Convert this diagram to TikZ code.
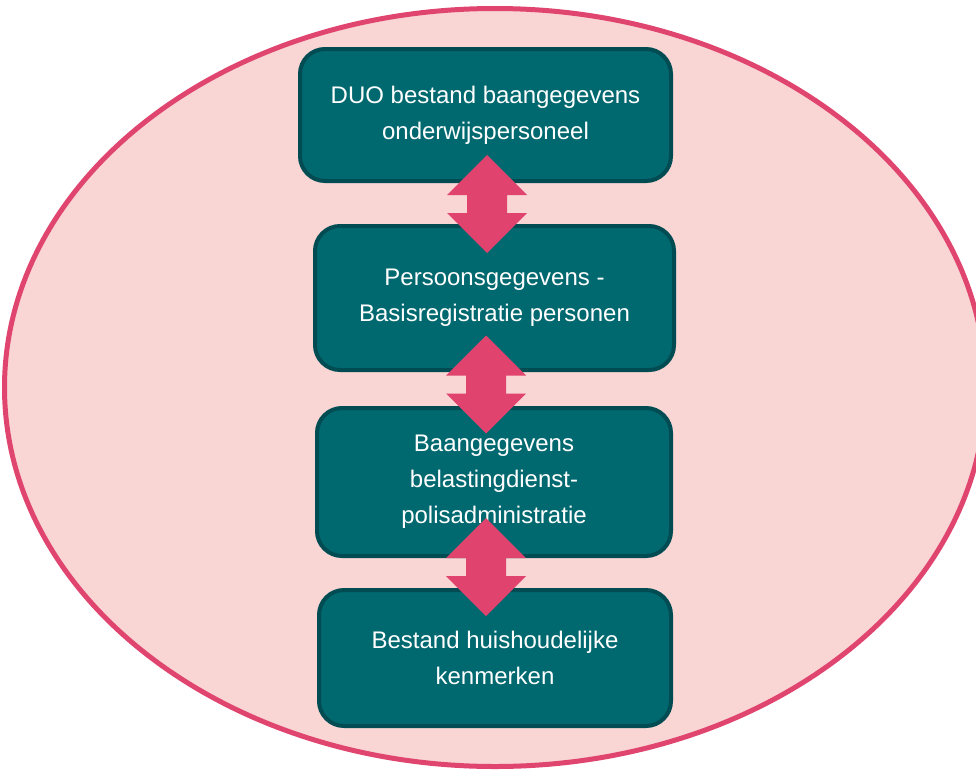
\documentclass[tikz,border=0pt]{standalone}
\usepackage{fontspec}
\setmainfont{Liberation Sans}
\definecolor{ellfill}{HTML}{F9D5D4}
\definecolor{ellline}{HTML}{E04570}
\definecolor{boxfill}{HTML}{00686F}
\definecolor{boxline}{HTML}{004C52}
\definecolor{arrowc}{HTML}{E0446E}
\tikzset{
  databox/.style={draw=boxline, fill=boxfill, line width=4pt, rounded corners=25pt,
    text=white, align=center, inner sep=0pt,
    font=\fontsize{24pt}{36pt}\selectfont},
  dblarrow/.style={fill=arrowc, draw=none}
}
\begin{document}
\begin{tikzpicture}[x=1pt,y=-1pt]
\useasboundingbox (0,0) rectangle (976,771);
\clip (0,0) rectangle (976,771);
\path[fill=ellfill, draw=ellline, line width=5pt] (495,387.5) ellipse [x radius=490.5, y radius=379];
\node[databox, minimum width=371pt, minimum height=132pt] (b1) at (485.5,115) {DUO bestand baangegevens\\onderwijspersoneel};
\node[databox, minimum width=359pt, minimum height=144pt] (b2) at (494.5,298) {Persoonsgegevens -\\Basisregistratie personen};
\node[databox, minimum width=354pt, minimum height=148pt] (b3) at (494,482) {Baangegevens\\belastingdienst-\\polisadministratie};
\node[databox, minimum width=352pt, minimum height=136pt] (b4) at (495,658) {Bestand huishoudelijke\\kenmerken};
\coordinate (a1) at (487,204);
\coordinate (a2) at (486,384.5);
\coordinate (a3) at (486,567);
\foreach \c in {a1,a2,a3}{
  \fill[dblarrow] (\c) ++(0,-49) -- ++(40,40) -- ++(-20,0) -- ++(0,18) -- ++(20,0)
    -- ++(-40,40) -- ++(-40,-40) -- ++(20,0) -- ++(0,-18) -- ++(-20,0) -- cycle;
}
\end{tikzpicture}
\end{document}
